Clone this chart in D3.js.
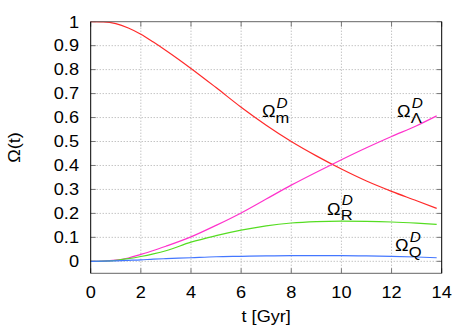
<!DOCTYPE html>
<html>
<head>
<meta charset="utf-8">
<script src="https://cdn.jsdelivr.net/npm/d3@7"></script>
<style>
  body { margin: 0; background: #fff; }
  svg { font-family: "Liberation Sans", Arial, sans-serif; }
</style>
</head>
<body>
<div id="chart"></div>
<script>
var width = 475;
var height = 333;
var margin = {left: 90.7, top: 21.7, right: 475 - 441.7, bottom: 333 - 273.3};
var fs = 16.5;     // font size
var sx = 1.1;      // text in the picture is a bit wider than tall

// values
var times = [0, 0.5, 1, 1.5, 2, 2.5, 3, 4, 5, 6, 7, 8, 9, 10, 11, 12, 13, 13.8];
var omegaM = [1, 0.999, 0.992, 0.974, 0.948, 0.915, 0.88, 0.805, 0.725, 0.643, 0.568, 0.5, 0.44, 0.385, 0.335, 0.292, 0.253, 0.221];
var omegaL = [0, 0.001, 0.005, 0.014, 0.029, 0.045, 0.063, 0.102, 0.15, 0.202, 0.26, 0.318, 0.372, 0.424, 0.474, 0.521, 0.566, 0.607];
var omegaR = [0, 0.001, 0.004, 0.011, 0.02, 0.031, 0.044, 0.08, 0.107, 0.13, 0.148, 0.16, 0.166, 0.168, 0.167, 0.164, 0.159, 0.154];
var omegaQ = [0, 0.0005, 0.002, 0.004, 0.006, 0.009, 0.011, 0.015, 0.019, 0.021, 0.023, 0.024, 0.024, 0.024, 0.023, 0.021, 0.018, 0.015];
var xTicks = [0, 2, 4, 6, 8, 10, 12, 14];
var yTicks = [0, 0.1, 0.2, 0.3, 0.4, 0.5, 0.6, 0.7, 0.8, 0.9, 1];

var series = [
  {vals: omegaM, color: "#ff2a2a", sub: "m", lx: 6.83, ly: 0.603},
  {vals: omegaL, color: "#ff33cc", sub: "Λ", lx: 12.22, ly: 0.603},
  {vals: omegaR, color: "#55dd22", sub: "R", lx: 9.43, ly: 0.195},
  {vals: omegaQ, color: "#4477ff", sub: "Q", lx: 12.14, ly: 0.042}
];

var svg = d3.select("#chart").append("svg")
  .attr("width", width)
  .attr("height", height);

var x = d3.scaleLinear().domain([0, 14]).range([margin.left, width - margin.right]);
var y = d3.scaleLinear().domain([-0.05, 1]).range([height - margin.bottom, margin.top]);

function label(px, py, str, anchor, size) {
  return svg.append("text")
    .attr("transform", "translate(" + px + "," + py + ") scale(" + sx + ",1)")
    .attr("text-anchor", anchor || "start")
    .attr("font-size", size || fs)
    .text(str);
}

// grid
svg.append("g").selectAll("line").data(xTicks.slice(1, -1)).enter().append("line")
  .attr("x1", d => x(d)).attr("x2", d => x(d))
  .attr("y1", y(1)).attr("y2", y(-0.05))
  .attr("stroke", "#aaa").attr("stroke-width", 1).attr("stroke-dasharray", "1,2");
svg.append("g").selectAll("line").data(yTicks.slice(0, -1)).enter().append("line")
  .attr("x1", x(0)).attr("x2", x(14))
  .attr("y1", d => y(d)).attr("y2", d => y(d))
  .attr("stroke", "#aaa").attr("stroke-width", 1).attr("stroke-dasharray", "1,2");

// inward ticks on all sides
var tk = svg.append("g").attr("stroke", "#777").attr("stroke-width", 1);
xTicks.forEach(function(t) {
  tk.append("line").attr("x1", x(t)).attr("x2", x(t)).attr("y1", y(-0.05)).attr("y2", y(-0.05) - 5);
  tk.append("line").attr("x1", x(t)).attr("x2", x(t)).attr("y1", y(1)).attr("y2", y(1) + 5);
});
yTicks.forEach(function(t) {
  tk.append("line").attr("x1", x(0)).attr("x2", x(0) + 5).attr("y1", y(t)).attr("y2", y(t));
  tk.append("line").attr("x1", x(14)).attr("x2", x(14) - 5).attr("y1", y(t)).attr("y2", y(t));
});

// curves
var line = d3.line()
  .x((d, i) => x(times[i]))
  .y(d => y(d))
  .curve(d3.curveMonotoneX);

series.forEach(function(s) {
  svg.append("path").datum(s.vals)
    .attr("fill", "none")
    .attr("stroke", s.color)
    .attr("stroke-width", 1.2)
    .attr("d", line);
});

// border
svg.append("line").attr("x1", x(0)).attr("x2", x(14)).attr("y1", y(1)).attr("y2", y(1)).attr("stroke", "#666");
svg.append("line").attr("x1", x(0)).attr("x2", x(14)).attr("y1", y(-0.05)).attr("y2", y(-0.05)).attr("stroke", "#666");
svg.append("line").attr("x1", x(0)).attr("x2", x(0)).attr("y1", y(1)).attr("y2", y(-0.05)).attr("stroke", "#000");
svg.append("line").attr("x1", x(14)).attr("x2", x(14)).attr("y1", y(1)).attr("y2", y(-0.05)).attr("stroke", "#000");

// tick labels
xTicks.forEach(function(t) { label(x(t), 298, t, "middle"); });
yTicks.forEach(function(t) { label(79, y(t) + 5.8, t, "end"); });

// axis titles
label((x(0) + x(14)) / 2, 322, "t [Gyr]", "middle");
svg.append("text")
  .attr("transform", "translate(20," + ((y(1) + y(-0.05)) / 2) + ") rotate(-90) scale(" + sx + ",1)")
  .attr("text-anchor", "middle").attr("font-size", fs).text("Ω(t)");

// curve labels: Ω with subscript and superscript D stacked
series.forEach(function(s) {
  var t = label(x(s.lx), y(s.ly), "Ω");
  t.append("tspan").attr("font-size", 15).attr("dy", 5.7).text(s.sub);
  t.append("tspan").attr("font-size", 14).attr("font-style", "italic")
    .attr("x", 13.3).attr("dy", -15).text("D");
});
</script>
</body>
</html>
